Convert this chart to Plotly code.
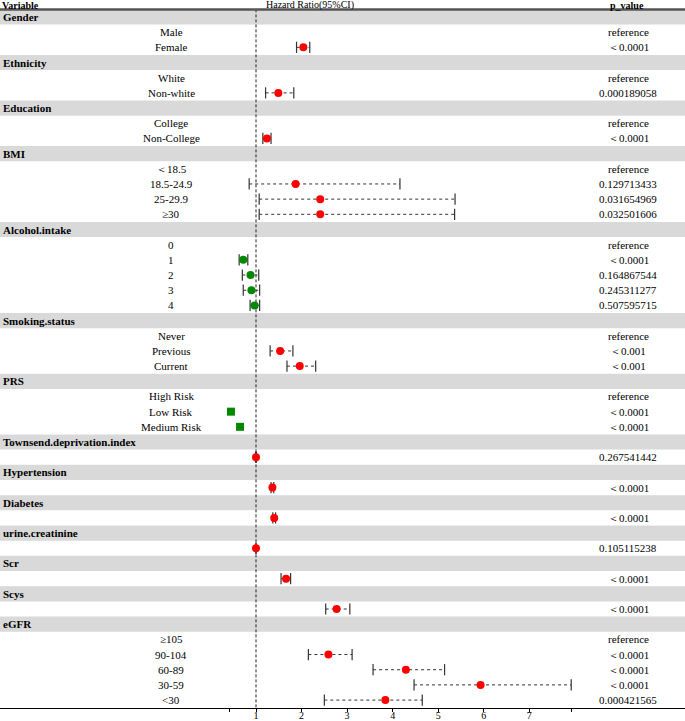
import plotly.graph_objects as go

# ---------------- data ----------------
row_labels = ["Gender", "Male", "Female",
              "Ethnicity", "White", "Non-white",
              "Education", "College", "Non-College",
              "BMI", "＜18.5", "18.5-24.9", "25-29.9", "≥30",
              "Alcohol.intake", "0", "1", "2", "3", "4",
              "Smoking.status", "Never", "Previous", "Current",
              "PRS", "High Risk", "Low Risk", "Medium Risk",
              "Townsend.deprivation.index", "",
              "Hypertension", "",
              "Diabetes", "",
              "urine.creatinine", "",
              "Scr", "",
              "Scys", "",
              "eGFR", "≥105", "90-104", "60-89", "30-59", "<30"]

group_names = ["Gender", "Ethnicity", "Education", "BMI", "Alcohol.intake",
               "Smoking.status", "PRS", "Townsend.deprivation.index",
               "Hypertension", "Diabetes", "urine.creatinine", "Scr", "Scys", "eGFR"]

hr = [None, None, 2.04,
      None, None, 1.49,
      None, None, 1.24,
      None, None, 1.87, 2.41, 2.41,
      None, None, 0.72, 0.88, 0.90, 0.97,
      None, None, 1.53, 1.96,
      None, None, 0.45, 0.65,
      None, 1.00,
      None, 1.36,
      None, 1.40,
      None, 1.00,
      None, 1.66,
      None, 2.77,
      None, None, 2.59, 4.29, 5.93, 3.84]

ci_low = [None, None, 1.89,
          None, None, 1.21,
          None, None, 1.15,
          None, None, 0.85, 1.07, 1.07,
          None, None, 0.63, 0.70, 0.72, 0.87,
          None, None, 1.31, 1.68,
          None, None, 0.44, 0.63,
          None, 0.99,
          None, 1.33,
          None, 1.37,
          None, 1.00,
          None, 1.55,
          None, 2.53,
          None, None, 2.15, 3.57, 4.47, 2.50]

ci_high = [None, None, 2.18,
           None, None, 1.83,
           None, None, 1.33,
           None, None, 4.16, 5.37, 5.36,
           None, None, 0.82, 1.06, 1.08, 1.08,
           None, None, 1.81, 2.31,
           None, None, 0.46, 0.67,
           None, 1.01,
           None, 1.39,
           None, 1.43,
           None, 1.00,
           None, 1.76,
           None, 3.06,
           None, None, 3.11, 5.14, 7.92, 4.65]

p_values = ["", "reference", "＜0.0001",
            "", "reference", "0.000189058",
            "", "reference", "＜0.0001",
            "", "reference", "0.129713433", "0.031654969", "0.032501606",
            "", "reference", "＜0.0001", "0.164867544", "0.245311277", "0.507595715",
            "", "reference", "＜0.001", "＜0.001",
            "", "reference", "＜0.0001", "＜0.0001",
            "", "0.267541442",
            "", "＜0.0001",
            "", "＜0.0001",
            "", "0.105115238",
            "", "＜0.0001",
            "", "＜0.0001",
            "", "reference", "＜0.0001", "＜0.0001", "＜0.0001", "0.000421565"]

square_rows = ["Low Risk", "Medium Risk"]
tick_values = [0.41, 1, 2, 3, 4, 5, 6, 7, 7.92]
tick_text = ["", "1", "2", "3", "4", "5", "6", "7", ""]

header = ["Variable", "Hazard Ratio(95%CI)", "p_value"]

# ---------------- layout constants ----------------
W, H = 685, 721
FONT = "Liberation Serif, Times New Roman, serif"
px_per_unit = 45.55
x_one_px = 256.0
x_lo = 1 - x_one_px / px_per_unit
x_hi = 1 + (W - x_one_px) / px_per_unit

row_px = 15.18
top_px = 1.8
plot_bottom = 708
n_rows = len(row_labels)
y_top = -top_px / row_px
y_bot = (plot_bottom - top_px) / row_px
ks = list(range(1, n_rows + 1))
header_k = (5.0 - top_px) / row_px

fig = go.Figure()

# CI dotted lines
cx, cy = [], []
for k, h, lo, hi in zip(ks, hr, ci_low, ci_high):
    if h is None:
        continue
    cx += [lo, hi, None]
    cy += [k, k, None]
fig.add_trace(go.Scatter(x=cx, y=cy, mode="lines",
                         line=dict(color="#333333", width=1, dash="dot"),
                         hoverinfo="skip", showlegend=False))

# CI caps
capx, capy = [], []
for k, h, lo, hi, lab in zip(ks, hr, ci_low, ci_high, row_labels):
    if h is None or lab in square_rows:
        continue
    capx += [lo, hi]
    capy += [k, k]
fig.add_trace(go.Scatter(x=capx, y=capy, mode="markers",
                         marker=dict(symbol="line-ns", size=8,
                                     line=dict(color="#333333", width=1.2)),
                         hoverinfo="skip", showlegend=False))

# point markers
mx, my, mc, ms = [], [], [], []
for k, h, lab in zip(ks, hr, row_labels):
    if h is None:
        continue
    mx.append(h)
    my.append(k)
    mc.append("#008800" if h < 1 else "#FF0000")
    ms.append("square" if lab in square_rows else "circle")
fig.add_trace(go.Scatter(x=mx, y=my, mode="markers",
                         marker=dict(color=mc, symbol=ms, size=8, line=dict(width=0)),
                         showlegend=False))

shapes = []
for k, lab in zip(ks, row_labels):
    if lab in group_names:
        shapes.append(dict(type="rect", xref="paper", yref="y", x0=0, x1=1,
                           y0=k - 0.5, y1=k + 0.5, fillcolor="#D9D9D9",
                           line=dict(width=0), layer="below"))
shapes.append(dict(type="line", xref="paper", yref="y", x0=0, x1=1, y0=0.5, y1=0.5,
                   line=dict(color="#555555", width=2.5)))
shapes.append(dict(type="line", xref="x", yref="y", x0=1, x1=1, y0=0.5, y1=y_bot,
                   line=dict(color="#222222", width=1, dash="3px,2px"), layer="below"))

annotations = []
hfont = dict(family=FONT, size=10, color="black")
annotations.append(dict(x=0.002, y=header_k, xref="paper", yref="y", text="<b>%s</b>" % header[0],
                        showarrow=False, xanchor="left", yanchor="middle", borderpad=0, font=hfont))
annotations.append(dict(x=310 / W, y=header_k, xref="paper", yref="y", text=header[1],
                        showarrow=False, xanchor="center", yanchor="middle", borderpad=0, font=hfont))
annotations.append(dict(x=627 / W, y=header_k, xref="paper", yref="y", text="<b>%s</b>" % header[2],
                        showarrow=False, xanchor="center", yanchor="middle", borderpad=0, font=hfont))

for k, lab, p in zip(ks, row_labels, p_values):
    if lab in group_names:
        annotations.append(dict(x=0.002, y=k, xref="paper", yref="y", text="<b>%s</b>" % lab,
                                showarrow=False, xanchor="left", yanchor="middle",
                                font=dict(family=FONT, size=11, color="black")))
    elif lab:
        annotations.append(dict(x=171 / W, y=k, xref="paper", yref="y", text=lab,
                                showarrow=False, xanchor="center", yanchor="middle",
                                font=dict(family=FONT, size=11, color="black")))
    if p:
        annotations.append(dict(x=628 / W, y=k, xref="paper", yref="y", text=p,
                                showarrow=False, xanchor="center", yanchor="middle",
                                font=dict(family=FONT, size=11, color="black")))

fig.update_layout(
    width=W, height=H,
    margin=dict(l=0, r=0, t=0, b=H - plot_bottom, autoexpand=False),
    paper_bgcolor="white", plot_bgcolor="white",
    shapes=shapes, annotations=annotations,
    showlegend=False,
    xaxis=dict(range=[x_lo, x_hi], showgrid=False, zeroline=False, automargin=False,
               showline=True, linecolor="black", linewidth=1,
               tickmode="array", tickvals=tick_values, ticktext=tick_text,
               ticks="outside", ticklen=3, tickcolor="black", tickwidth=1,
               ticklabelstandoff=-5,
               tickfont=dict(family=FONT, size=10, color="black")),
    yaxis=dict(range=[y_bot, y_top], showgrid=False, zeroline=False, automargin=False,
               showticklabels=False, showline=False, ticks=""),
)

fig.write_html("out.html", config={"displayModeBar": False},
               post_script="document.body.style.margin='0';document.body.style.overflow='hidden';")
